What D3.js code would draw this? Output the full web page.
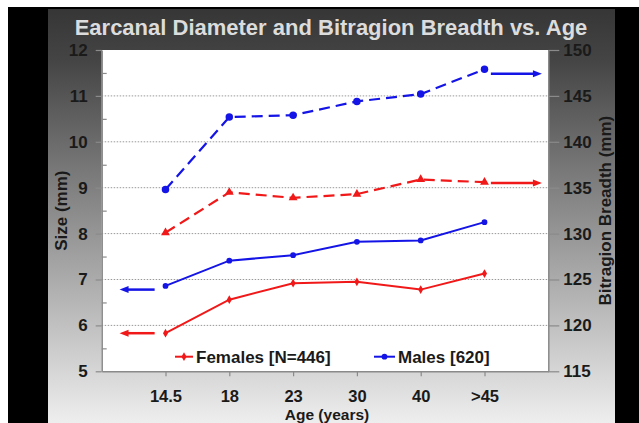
<!DOCTYPE html>
<html>
<head>
<meta charset="utf-8">
<script src="https://cdn.jsdelivr.net/npm/d3@7"></script>
<style>
  body { margin: 0; background: #fff; }
  text { font-family: "Liberation Sans", Arial, sans-serif; font-weight: bold; }
</style>
</head>
<body>
<svg id="chart" width="639" height="423"></svg>
<script>
// age groups (x axis)
var ages = ["14.5", "18", "23", "30", "40", ">45"];

// earcanal diameter, mm (left axis, solid)
var earFemales = [5.83, 6.56, 6.92, 6.95, 6.78, 7.13];
var earMales = [6.86, 7.41, 7.53, 7.82, 7.85, 8.25];

// bitragion breadth, mm (right axis, dashed)
var bitFemales = [130.1, 134.5, 133.9, 134.3, 135.9, 135.6];
var bitMales = [134.8, 142.7, 142.9, 144.4, 145.2, 147.9];

// axis hint arrows
var leftArrowLevels = {females: 5.83, males: 6.78};
var rightArrowLevels = {females: 135.5, males: 147.4};

var leftTicks = [5, 6, 7, 8, 9, 10, 11, 12];
var rightTicks = [115, 120, 125, 130, 135, 140, 145, 150];

var red = "#f01818", blue = "#1414e6";

var svg = d3.select("#chart");
var plotL = 101.7, plotR = 548.3, plotT = 50, plotB = 371.3;

// background: black frame + grey gradient panel
var defs = svg.append("defs");
var grad = defs.append("linearGradient")
    .attr("id", "panelGrad")
    .attr("x1", 0).attr("y1", 0).attr("x2", 0).attr("y2", 1);
grad.append("stop").attr("offset", "0").attr("stop-color", "#363636");
grad.append("stop").attr("offset", "0.12").attr("stop-color", "#444");
grad.append("stop").attr("offset", "1").attr("stop-color", "#eeeeee");

svg.append("rect").attr("x", 8).attr("y", 7).attr("width", 631).attr("height", 416).attr("fill", "#000");
svg.append("rect").attr("x", 48).attr("y", 9).attr("width", 567).attr("height", 414).attr("fill", "url(#panelGrad)");
svg.append("rect").attr("x", plotL).attr("y", plotT)
    .attr("width", plotR - plotL).attr("height", plotB - plotT).attr("fill", "#fff");

var x = d3.scalePoint().domain(ages).range([plotL, plotR]).padding(1);
var yL = d3.scaleLinear().domain([5, 12]).range([plotB, plotT]);
var yR = d3.scaleLinear().domain([115, 150]).range([plotB, plotT]);

// dotted gridlines
svg.append("g").selectAll("line")
    .data(leftTicks.slice(1, -1))
    .enter().append("line")
    .attr("x1", plotL).attr("x2", plotR)
    .attr("y1", function (d) { return yL(d); })
    .attr("y2", function (d) { return yL(d); })
    .attr("stroke", "#999")
    .attr("stroke-width", 1)
    .attr("stroke-dasharray", "1.5,1.5");

function styleAxis(g) {
    g.select(".domain").attr("stroke", "#8a8a8a").attr("stroke-width", 1.5);
    g.selectAll(".tick line").attr("stroke", "#8a8a8a").attr("stroke-width", 1.2);
    g.selectAll(".tick text").attr("fill", "#1a1a1a")
        .style("font-size", "17px").style("font-weight", "bold")
        .style("font-family", "'Liberation Sans', Arial, sans-serif");
}

// left axis with inner minor ticks
svg.append("g")
    .attr("transform", "translate(" + plotL + ",0)")
    .call(d3.axisLeft(yL).tickValues(leftTicks).tickFormat(d3.format("d"))
        .tickSize(6).tickSizeOuter(0).tickPadding(8))
    .call(styleAxis);
svg.append("g")
    .attr("transform", "translate(" + plotL + ",0)")
    .call(d3.axisLeft(yL).tickValues(d3.range(5.5, 12, 1)).tickSize(-5).tickFormat(""))
    .call(styleAxis)
    .select(".domain").remove();

// right axis
svg.append("g")
    .attr("transform", "translate(" + plotR + ",0)")
    .call(d3.axisRight(yR).tickValues(rightTicks).tickFormat(d3.format("d"))
        .tickSize(11).tickSizeOuter(0).tickPadding(4))
    .call(styleAxis);

// bottom axis
var xAxisG = svg.append("g")
    .attr("transform", "translate(0," + plotB + ")")
    .call(d3.axisBottom(x).tickSize(5).tickSizeOuter(0).tickPadding(14))
    .call(styleAxis);
xAxisG.selectAll(".tick text").style("font-size", "16.5px");

// titles
svg.append("text")
    .attr("x", 331).attr("y", 35)
    .attr("text-anchor", "middle")
    .attr("fill", "#dcdcdc")
    .style("font-size", "22px")
    .text("Earcanal Diameter and Bitragion Breadth vs. Age");

svg.append("text")
    .attr("transform", "translate(61," + ((plotT + plotB) / 2) + ") rotate(-90)")
    .attr("text-anchor", "middle").attr("dy", "0.35em")
    .attr("fill", "#1a1a1a").style("font-size", "17px")
    .text("Size (mm)");

svg.append("text")
    .attr("transform", "translate(605," + ((plotT + plotB) / 2) + ") rotate(-90)")
    .attr("text-anchor", "middle").attr("dy", "0.35em")
    .attr("fill", "#1a1a1a").style("font-size", "17px")
    .text("Bitragion Breadth (mm)");

svg.append("text")
    .attr("x", 327).attr("y", 419.5)
    .attr("text-anchor", "middle")
    .attr("fill", "#1a1a1a").style("font-size", "15.5px")
    .text("Age (years)");

// series
function drawSeries(values, y, color, dashed, symbol) {
    var line = d3.line()
        .x(function (d, i) { return x(ages[i]); })
        .y(function (d) { return y(d); });

    svg.append("path")
        .datum(values)
        .attr("fill", "none")
        .attr("stroke", color)
        .attr("stroke-width", dashed ? 2.2 : 2)
        .attr("stroke-dasharray", dashed ? "11,6" : null)
        .attr("d", line);

    svg.append("g").selectAll("path")
        .data(values)
        .enter().append("path")
        .attr("transform", function (d, i) { return "translate(" + x(ages[i]) + "," + y(d) + ")"; })
        .attr("d", symbol)
        .attr("fill", color);
}

var smallDiamond = d3.symbol(d3.symbolDiamond, 22);
var smallDot = d3.symbol(d3.symbolCircle, 26);
var bigDot = d3.symbol(d3.symbolCircle, 44);
var triangle = d3.symbol(d3.symbolTriangle, 34);

drawSeries(bitFemales, yR, red, true, triangle);
drawSeries(bitMales, yR, blue, true, bigDot);
drawSeries(earFemales, yL, red, false, smallDiamond);
drawSeries(earMales, yL, blue, false, smallDot);

// arrows pointing to the axis each group belongs to
var step = x.step();
function arrow(x1, x2, y, color) {
    var dir = x2 > x1 ? 1 : -1;
    svg.append("line")
        .attr("x1", x1).attr("x2", x2 - dir * 6)
        .attr("y1", y).attr("y2", y)
        .attr("stroke", color).attr("stroke-width", 2.5);
    svg.append("path")
        .attr("d", "M" + x2 + "," + y + "L" + (x2 - dir * 9) + "," + (y - 3.5) +
            "L" + (x2 - dir * 9) + "," + (y + 3.5) + "Z")
        .attr("fill", color);
}
var xFirst = x(ages[0]), xLast = x(ages[ages.length - 1]);
arrow(xFirst - step * 0.17, xFirst - step * 0.72, yL(leftArrowLevels.females), red);
arrow(xFirst - step * 0.17, xFirst - step * 0.72, yL(leftArrowLevels.males), blue);
arrow(xLast + step * 0.1, xLast + step * 0.9, yR(rightArrowLevels.females), red);
arrow(xLast + step * 0.1, xLast + step * 0.9, yR(rightArrowLevels.males), blue);

// legend
var legendY = 356.7;
var legendItems = [
    {label: "Females [N=446]", color: red, x0: 175, x1: 193, symbol: smallDiamond},
    {label: "Males [620]", color: blue, x0: 374, x1: 395, symbol: smallDot}
];
var leg = svg.append("g").selectAll("g").data(legendItems).enter().append("g");
leg.append("line")
    .attr("x1", function (d) { return d.x0; })
    .attr("x2", function (d) { return d.x1; })
    .attr("y1", legendY).attr("y2", legendY)
    .attr("stroke", function (d) { return d.color; })
    .attr("stroke-width", 2);
leg.append("path")
    .attr("transform", function (d) { return "translate(" + ((d.x0 + d.x1) / 2) + "," + legendY + ")"; })
    .attr("d", function (d) { return d.symbol(); })
    .attr("fill", function (d) { return d.color; });
leg.append("text")
    .attr("x", function (d) { return d.x1 + 3; })
    .attr("y", legendY).attr("dy", "0.36em")
    .attr("fill", "#1a1a1a").style("font-size", "17px")
    .text(function (d) { return d.label; });
</script>
</body>
</html>
